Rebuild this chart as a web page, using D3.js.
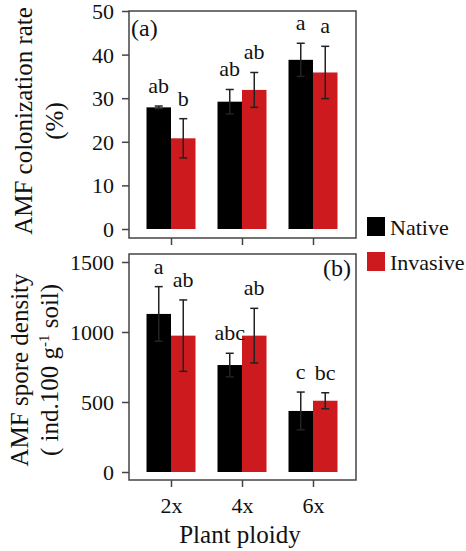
<!DOCTYPE html>
<meta charset='utf-8'>
<style>
body { margin: 0; background: #fff; }
svg text { font-family: "Liberation Serif", "Times New Roman", "DejaVu Serif", serif; fill: #111; }
.frame { fill: none; stroke: #444; stroke-width: 1.5; }
.tick line { stroke: #444; stroke-width: 1.5; }
.err line { stroke: #222; stroke-width: 1.5; }
</style>
<svg width='466' height='551'></svg>
<script src='https://d3js.org/d3.v7.min.js'></script>
<script>

var ploidy = ['2x', '4x', '6x'];
var series = ['Native', 'Invasive'];
var colors = ['#000000', '#cc1a1f'];

// panel (a): AMF colonization rate (%)
var colNative = [27.9, 29.2, 38.8],
    colNativeErr = [0.3, 2.8, 3.8],
    colInvasive = [20.8, 31.9, 35.9],
    colInvasiveErr = [4.5, 4.0, 6.0],
    colLetters = [['ab', 'b'], ['ab', 'ab'], ['a', 'a']],
    colTicks = [0, 10, 20, 30, 40, 50];

// panel (b): AMF spore density
var sporeNative = [1129, 764, 436],
    sporeNativeErr = [195, 84, 135],
    sporeInvasive = [974, 974, 509],
    sporeInvasiveErr = [255, 195, 57],
    sporeLetters = [['a', 'ab'], ['abc', 'ab'], ['c', 'bc']],
    sporeTicks = [0, 500, 1000, 1500];

var serif = '"Liberation Serif", "Times New Roman", "DejaVu Serif", serif';
var svg = d3.select('svg');
var left = 129, right = 356, barW = 24.5;

var x = d3.scalePoint().domain(ploidy).range([171, 313]);

function panel(opt) {
    var g = svg.append('g');
    var y = d3.scaleLinear().domain(opt.domain).range([opt.y0, opt.y1]);

    g.append('rect').attr('class', 'frame')
        .attr('x', left).attr('y', opt.top)
        .attr('width', right - left).attr('height', opt.bottom - opt.top);

    var yAxis = g.append('g')
        .attr('transform', 'translate(' + left + ',0)')
        .call(d3.axisLeft(y).tickValues(opt.ticks).tickFormat(d3.format('d'))
            .tickSize(7).tickPadding(8));
    yAxis.attr('font-family', null).attr('font-size', null);
    yAxis.select('.domain').remove();
    yAxis.selectAll('text').style('font-family', serif).style('font-size', '22px')
        .attr('fill', '#111').attr('dy', '0.34em');

    var xAxis = g.append('g')
        .attr('transform', 'translate(0,' + opt.bottom + ')')
        .call(d3.axisBottom(x).tickSize(7).tickPadding(10));
    xAxis.attr('font-family', null).attr('font-size', null);
    xAxis.select('.domain').remove();
    if (!opt.xlabels) xAxis.selectAll('text').remove();
    else xAxis.selectAll('text').style('font-family', serif).style('font-size', '22px')
        .attr('fill', '#111');

    var rows = ploidy.map(function(p, i) {
        return [
            {p: p, s: 0, v: opt.native[i], e: opt.nativeErr[i], l: opt.letters[i][0]},
            {p: p, s: 1, v: opt.invasive[i], e: opt.invasiveErr[i], l: opt.letters[i][1]}
        ];
    }).flat();

    g.selectAll('.bar').data(rows).enter().append('rect')
        .attr('x', function(d) { return x(d.p) - (d.s === 0 ? barW : 0); })
        .attr('y', function(d) { return y(d.v); })
        .attr('width', barW)
        .attr('height', function(d) { return y(0) - y(d.v); })
        .attr('fill', function(d) { return colors[d.s]; });

    var err = g.selectAll('.err').data(rows).enter().append('g').attr('class', 'err')
        .attr('transform', function(d) {
            return 'translate(' + (x(d.p) + (d.s === 0 ? -barW / 2 : barW / 2)) + ',0)';
        });
    err.append('line')
        .attr('y1', function(d) { return y(d.v + d.e); })
        .attr('y2', function(d) { return y(d.v - d.e); });
    err.append('line').attr('x1', -4).attr('x2', 4)
        .attr('y1', function(d) { return y(d.v + d.e); })
        .attr('y2', function(d) { return y(d.v + d.e); });
    err.append('line').attr('x1', -4).attr('x2', 4)
        .attr('y1', function(d) { return y(d.v - d.e); })
        .attr('y2', function(d) { return y(d.v - d.e); });

    g.selectAll('.lab').data(rows).enter().append('text')
        .attr('x', function(d) { return x(d.p) + (d.s === 0 ? -barW / 2 : barW / 2); })
        .attr('y', function(d) { return y(d.v + d.e) - 13; })
        .attr('text-anchor', 'middle')
        .style('font-size', '22px')
        .text(function(d) { return d.l; });

    g.append('text')
        .attr('x', opt.tagX).attr('y', opt.tagY)
        .attr('text-anchor', opt.tagAnchor)
        .style('font-size', '24px')
        .text(opt.tag);

    g.append('text')
        .attr('transform', 'translate(' + opt.t1x + ',' + opt.cy + ') rotate(-90)')
        .attr('text-anchor', 'middle').style('font-size', '25px')
        .text(opt.title1);
    var t2 = g.append('text')
        .attr('transform', 'translate(' + opt.t2x + ',' + opt.cy + ') rotate(-90)')
        .attr('text-anchor', 'middle').style('font-size', '25px');
    opt.title2(t2);
}

panel({
    domain: [0, 50], y0: 229, y1: 11, top: 11, bottom: 238, ticks: colTicks,
    native: colNative, nativeErr: colNativeErr,
    invasive: colInvasive, invasiveErr: colInvasiveErr,
    letters: colLetters, xlabels: false,
    tag: '(a)', tagX: 131, tagY: 36, tagAnchor: 'start',
    cy: 121, t1x: 32, t2x: 63,
    title1: 'AMF colonization rate',
    title2: function(t) { t.text('(%)'); }
});

panel({
    domain: [0, 1500], y0: 472, y1: 262, top: 254, bottom: 480, ticks: sporeTicks,
    native: sporeNative, nativeErr: sporeNativeErr,
    invasive: sporeInvasive, invasiveErr: sporeInvasiveErr,
    letters: sporeLetters, xlabels: true,
    tag: '(b)', tagX: 351, tagY: 276, tagAnchor: 'end',
    cy: 370, t1x: 28, t2x: 58,
    title1: 'AMF spore density',
    title2: function(t) {
        t.append('tspan').text('( ind.100 g');
        t.append('tspan').attr('dy', -9).style('font-size', '15px').text('-1');
        t.append('tspan').attr('dy', 9).text(' soil)');
    }
});

svg.append('text')
    .attr('x', 240).attr('y', 543)
    .attr('text-anchor', 'middle').style('font-size', '25px')
    .text('Plant ploidy');

// legend
var legend = svg.append('g').attr('transform', 'translate(367,217)');
var li = legend.selectAll('g').data(series).enter().append('g')
    .attr('transform', function(d, i) { return 'translate(0,' + (i * 35) + ')'; });
li.append('rect').attr('width', 18).attr('height', 19)
    .attr('fill', function(d, i) { return colors[i]; });
li.append('text').attr('x', 23).attr('y', 18).style('font-size', '22px')
    .text(function(d) { return d; });

</script>
